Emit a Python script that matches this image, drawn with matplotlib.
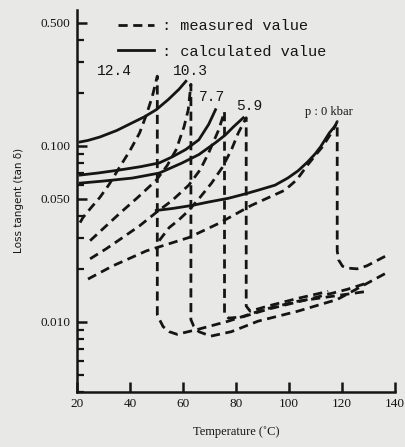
import numpy as np
import matplotlib
matplotlib.use('Agg')
import matplotlib.pyplot as plt
from matplotlib.ticker import LogLocator, FixedLocator, NullFormatter
from matplotlib.lines import Line2D

# measured curves (dashed): rise, drop at the transition, then the low branch
t_124 = [21.1, 22.2, 25.0, 28.6, 32.0, 36.1, 40.0, 43.6, 46.2, 48.4, 50.3,
         50.3, 51.0, 52.5, 54.8, 57.8, 66.0, 77.2, 91.0, 103.4, 129.5]
m_124 = [0.0366, 0.0391, 0.044, 0.0509, 0.060, 0.0757, 0.094, 0.118, 0.150, 0.190, 0.248,
         0.0110, 0.0104, 0.0094, 0.0088, 0.0085, 0.0091, 0.0101, 0.0118, 0.0131, 0.0149]

t_103 = [24.9, 30.0, 36.1, 43.0, 49.9, 54.0, 57.4, 60.4, 62.0, 63.0,
         63.0, 64.0, 66.0, 70.5, 78.3, 88.4, 103.4, 118.3, 138.1]
m_103 = [0.0289, 0.034, 0.0413, 0.051, 0.0637, 0.077, 0.0947, 0.128, 0.160, 0.223,
         0.0103, 0.0095, 0.0088, 0.0083, 0.0088, 0.0101, 0.0115, 0.0134, 0.0194]

t_77 = [24.9, 31.0, 37.2, 43.5, 49.9, 56.0, 62.2, 66.5, 69.7, 73.5, 75.7,
        75.7, 77.2, 82.8, 92.1, 107.1, 122.1, 129.5]
m_77 = [0.0228, 0.026, 0.0301, 0.035, 0.0418, 0.049, 0.0597, 0.073, 0.091, 0.123, 0.156,
        0.0112, 0.0105, 0.0107, 0.0118, 0.0134, 0.0153, 0.0166]

t_59 = [51.0, 54.8, 58.5, 62.2, 66.5, 70.8, 74.8, 78.3, 80.9, 83.9,
        83.9, 85.4, 92.1, 103.4, 114.9]
m_59 = [0.0289, 0.0343, 0.038, 0.0429, 0.051, 0.0613, 0.075, 0.0947, 0.118, 0.144,
        0.0123, 0.0115, 0.0123, 0.0136, 0.0149]

t_0 = [24.1, 33.5, 46.2, 62.2, 73.5, 85.8, 98.5, 103.0, 107.1, 110.0, 112.7, 116.4, 118.3,
       118.3, 118.8, 120.3, 122.1, 125.8, 129.5, 138.1]
m_0 = [0.0175, 0.0208, 0.0253, 0.0301, 0.0362, 0.0458, 0.0559, 0.064, 0.0777, 0.088, 0.0985, 0.120, 0.137,
       0.0253, 0.0225, 0.0207, 0.0202, 0.0200, 0.0208, 0.0243]

# calculated curves (solid)
tc_1 = [21.1, 24.0, 28.6, 35.0, 40.9, 45.5, 49.9, 54.5, 58.5, 61.1]
c_1 = [0.105, 0.107, 0.112, 0.122, 0.135, 0.146, 0.160, 0.183, 0.209, 0.232]
tc_2 = [21.1, 28.0, 36.1, 44.0, 51.0, 55.9, 61.0, 66.0, 69.7, 72.3]
c_2 = [0.0681, 0.070, 0.0728, 0.076, 0.0798, 0.0863, 0.095, 0.108, 0.132, 0.160]
tc_3 = [21.1, 30.0, 40.9, 51.0, 59.6, 66.0, 72.3, 76.0, 79.1, 82.8]
c_3 = [0.0613, 0.063, 0.0655, 0.0699, 0.0797, 0.089, 0.104, 0.115, 0.128, 0.144]
tc_0 = [49.9, 56.0, 63.4, 70.0, 77.2, 83.0, 88.4, 94.8, 99.6, 103.5, 107.1, 110.0, 112.0, 115.3, 117.6]
c_0 = [0.0429, 0.0440, 0.0458, 0.048, 0.0503, 0.053, 0.0559, 0.0597, 0.0655, 0.072, 0.0808, 0.090, 0.0985, 0.118, 0.130]

p_labels = ['12.4', '10.3', '7.7', '5.9']
p_label_t = [34.2, 63.0, 70.8, 85.0]
p_label_y = [0.265, 0.265, 0.188, 0.167]

x_ticks = [20, 40, 60, 80, 100, 120, 140]
y_ticks = [0.01, 0.05, 0.1, 0.5]
y_ticklabels = ['0.010', '0.050', '0.100', '0.500']

ink = '#151515'
bg = '#e8e8e6'
lw = 2.0
dash = (3.3, 2.0)

fig = plt.figure(figsize=(4.06, 4.47), dpi=100, facecolor=bg)
ax = fig.add_axes([0.19, 0.123, 0.782, 0.855])
ax.set_facecolor(bg)

for t, m in [(t_124, m_124), (t_103, m_103), (t_77, m_77), (t_59, m_59), (t_0, m_0)]:
    ax.plot(t, m, color=ink, lw=lw, dashes=dash, solid_capstyle='butt')
for t, c in [(tc_1, c_1), (tc_2, c_2), (tc_3, c_3), (tc_0, c_0)]:
    ax.plot(t, c, color=ink, lw=lw)

ax.set_yscale('log')
ax.set_xlim(20, 140)
ax.set_ylim(0.004, 0.59)

for s in ['top', 'right']:
    ax.spines[s].set_visible(False)
for s in ['left', 'bottom']:
    ax.spines[s].set_linewidth(1.8)
    ax.spines[s].set_color(ink)

ax.xaxis.set_major_locator(FixedLocator(x_ticks))
ax.yaxis.set_major_locator(FixedLocator(y_ticks))
ax.yaxis.set_minor_locator(LogLocator(base=10, subs=np.arange(2, 10)))
ax.yaxis.set_minor_formatter(NullFormatter())
ax.set_yticklabels(y_ticklabels)
ax.tick_params(axis='both', which='major', direction='in', length=7, width=1.8, color=ink,
               labelsize=9.5, labelcolor=ink)
ax.tick_params(axis='y', which='minor', direction='in', length=5, width=1.6, color=ink)
ax.tick_params(axis='x', pad=4)
ax.tick_params(axis='y', pad=5)
for lab in ax.get_xticklabels() + ax.get_yticklabels():
    lab.set_family('Liberation Serif')

ax.set_xlabel('Temperature (˚C)', family='Liberation Serif', fontsize=9, color=ink, labelpad=12)
ax.set_ylabel('Loss tangent (tan δ)', family='DejaVu Sans', fontsize=7.5, color=ink, labelpad=12)

for lab, t, y in zip(p_labels, p_label_t, p_label_y):
    ax.text(t, y, lab, family='Liberation Mono', fontsize=10.5, color=ink, ha='center', va='center')
ax.text(115, 0.156, 'p : 0 kbar', family='Liberation Serif', fontsize=9, color=ink, ha='center', va='center')

handles = [Line2D([], [], color=ink, lw=lw, dashes=dash), Line2D([], [], color=ink, lw=lw)]
leg = ax.legend(handles, [': measured value', ': calculated value'], loc='upper left',
                bbox_to_anchor=(0.128, 0.975), frameon=False, borderpad=0, borderaxespad=0,
                handlelength=2.4, handletextpad=0.5, labelspacing=0.75,
                prop={'family': 'Liberation Mono', 'size': 11})
for txt in leg.get_texts():
    txt.set_color(ink)

fig.savefig('out.png', dpi=100, facecolor=bg)
